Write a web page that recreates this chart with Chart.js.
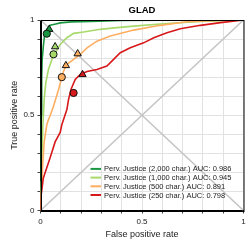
<!DOCTYPE html>
<html>
<head>
<meta charset="utf-8">
<script src="https://cdn.jsdelivr.net/npm/chart.js@4"></script>
<style>
	html, body { margin: 0; padding: 0; background: #fff; }
	canvas { display: block; }
</style>
</head>
<body>
<canvas id="rocChart" width="249" height="249"></canvas>
<script>
// series names and AUC
const seriesNames = ['Perv. Justice (2,000 char.)', 'Perv. Justice (1,000 char.)', 'Perv. Justice (500 char.)', 'Perv. Justice (250 char.)']
const aucValues = [0.986, 0.945, 0.891, 0.798]
const seriesColors = ['#1a9641', '#a6d96a', '#fdae61', '#d7191c']

// ROC curves
const fpr2000 = [0, 0.002, 0.004, 0.006, 0.008, 0.014, 0.02, 0.03, 0.047, 0.07, 0.097, 0.15, 0.25, 0.4, 0.6, 1]
const tpr2000 = [0, 0.2, 0.5, 0.7, 0.79, 0.862, 0.92, 0.95, 0.972, 0.978, 0.985, 0.99, 0.993, 0.997, 0.999, 1]

const fpr1000 = [0, 0.003, 0.007, 0.012, 0.018, 0.026, 0.039, 0.056, 0.072, 0.097, 0.13, 0.163, 0.212, 0.294, 0.377, 0.459, 0.623, 0.788, 1]
const tpr1000 = [0, 0.15, 0.3, 0.45, 0.582, 0.67, 0.74, 0.793, 0.828, 0.872, 0.907, 0.93, 0.937, 0.951, 0.96, 0.968, 0.982, 0.993, 1]

const fpr500 = [0, 0.003, 0.011, 0.018, 0.031, 0.039, 0.048, 0.064, 0.089, 0.102, 0.113, 0.13, 0.163, 0.196, 0.229, 0.278, 0.344, 0.459, 0.59, 0.722, 0.87, 1]
const tpr500 = [0, 0.08, 0.24, 0.36, 0.45, 0.476, 0.5, 0.547, 0.635, 0.688, 0.73, 0.767, 0.793, 0.82, 0.854, 0.889, 0.916, 0.947, 0.972, 0.991, 0.998, 1]

const fpr250 = [0, 0.003, 0.014, 0.023, 0.047, 0.072, 0.097, 0.105, 0.13, 0.138, 0.15, 0.171, 0.196, 0.229, 0.278, 0.327, 0.36, 0.393, 0.442, 0.508, 0.558, 0.623, 0.689, 0.788, 0.887, 1]
const tpr250 = [0, 0.08, 0.17, 0.2, 0.276, 0.36, 0.41, 0.45, 0.53, 0.582, 0.635, 0.688, 0.714, 0.73, 0.74, 0.758, 0.793, 0.828, 0.854, 0.88, 0.907, 0.933, 0.954, 0.972, 0.986, 1]

// operating points
const circleFpr = [0.031, 0.064, 0.105, 0.163]
const circleTpr = [0.928, 0.82, 0.70, 0.617]
const circleSeries = [0, 1, 2, 3]
const triangleFpr = [0.043, 0.072, 0.125, 0.183, 0.207]
const triangleTpr = [0.951, 0.86, 0.761, 0.823, 0.714]
const triangleSeries = [0, 1, 2, 2, 3]

// reference diagonals
const diagX = [0, 1]
const diagY = [0, 1]
const antiDiagY = [1, 0]

// tick labels
const tickValues = [0, 0.5, 1]
const tickLabels = ['0', '0.5', '1']

const FONT = "'Liberation Sans', Arial, sans-serif"

function zip(xs, ys) {
	return xs.map((x, i) => ({ x: x, y: ys[i] }))
}

const curves = [[fpr2000, tpr2000], [fpr1000, tpr1000], [fpr500, tpr500], [fpr250, tpr250]]

const datasets = []
curves.forEach((c, i) => {
	datasets.push({
		label: seriesNames[i] + ' AUC: ' + aucValues[i].toFixed(3),
		data: zip(c[0], c[1]),
		showLine: true,
		borderColor: seriesColors[i],
		backgroundColor: seriesColors[i],
		borderWidth: 1.6,
		pointRadius: 0,
		order: 5 - i,
		isCurve: true
	})
})
datasets.push({
	data: zip(diagX, diagY),
	showLine: true, borderColor: '#c4c4c4', borderWidth: 1.5, pointRadius: 0, order: 20
})
datasets.push({
	data: zip(diagX, antiDiagY),
	showLine: true, borderColor: '#c4c4c4', borderWidth: 1.5, pointRadius: 0, order: 20
})
datasets.push({
	data: zip(circleFpr, circleTpr),
	showLine: false,
	pointStyle: 'circle',
	pointRadius: 3.6,
	pointBorderWidth: 1,
	pointBorderColor: '#111',
	pointBackgroundColor: circleSeries.map(s => seriesColors[s]),
	order: 0
})
datasets.push({
	data: zip(triangleFpr, triangleTpr),
	showLine: false,
	pointStyle: 'triangle',
	pointRadius: 4.2,
	pointBorderWidth: 1,
	pointBorderColor: '#111',
	pointBackgroundColor: triangleSeries.map(s => seriesColors[s]),
	order: 0
})

function tickCb(v) {
	for (let i = 0; i < tickValues.length; i++) {
		if (Math.abs(v - tickValues[i]) < 1e-9) return tickLabels[i]
	}
	return ''
}

// frame around the plot + legend inside the plot
const framePlugin = {
	id: 'frameAndLegend',
	afterDraw(chart) {
		const a = chart.chartArea
		const g = chart.ctx
		g.save()
		g.strokeStyle = '#000'
		g.lineWidth = 1
		g.strokeRect(Math.round(a.left) + 0.5, Math.round(a.top) + 0.5, Math.round(a.right - a.left) - 0.5, Math.round(a.bottom - a.top))
		// legend
		const rows = chart.data.datasets.filter(d => d.isCurve)
		const x0 = a.left + 50
		const rowH = 8.7
		const yLast = a.bottom - 15.5
		g.font = '7.5px ' + FONT
		g.textBaseline = 'middle'
		g.fillStyle = '#222'
		rows.forEach((d, i) => {
			const y = yLast - (rows.length - 1 - i) * rowH
			g.strokeStyle = d.borderColor
			g.lineWidth = 2
			g.beginPath()
			g.moveTo(x0, y)
			g.lineTo(x0 + 10.5, y)
			g.stroke()
			g.fillText(d.label, x0 + 13.5, y + 0.5)
		})
		g.restore()
	}
}

new Chart(document.getElementById('rocChart'), {
	type: 'scatter',
	data: { datasets: datasets },
	plugins: [framePlugin],
	options: {
		responsive: false,
		animation: false,
		layout: { padding: { top: 0, right: 5.5, bottom: 0, left: 0 } },
		plugins: {
			legend: { display: false },
			tooltip: { enabled: false },
			title: {
				display: true,
				text: 'GLAD',
				fullSize: false,
				color: '#000',
				font: { family: FONT, size: 9.5, weight: 'bold' },
				padding: { top: 5, bottom: 3.6 }
			}
		},
		scales: {
			x: {
				type: 'linear',
				min: 0, max: 1,
				afterFit: s => { s.height = 38.5 },
				ticks: { stepSize: 0.1, autoSkip: false, maxRotation: 0, callback: tickCb, color: '#222', font: { family: FONT, size: 8 }, padding: 3 },
				grid: { color: '#e2e2e2', tickColor: '#444', tickLength: 3, lineWidth: 1 },
				border: { display: true, color: '#000', width: 1 },
				title: { display: true, text: 'False positive rate', color: '#222', font: { family: FONT, size: 9 }, padding: { top: 9, bottom: 9 } }
			},
			y: {
				type: 'linear',
				min: 0, max: 1,
				afterFit: s => { s.width = 40.5 },
				ticks: { stepSize: 0.1, autoSkip: false, callback: tickCb, color: '#222', font: { family: FONT, size: 8 }, padding: 3 },
				grid: { color: '#e2e2e2', tickColor: '#444', tickLength: 3, lineWidth: 1 },
				border: { display: true, color: '#000', width: 1 },
				title: { display: true, text: 'True positive rate', color: '#222', font: { family: FONT, size: 9 }, padding: { top: 9, bottom: 9 } }
			}
		}
	}
})
</script>
</body>
</html>
